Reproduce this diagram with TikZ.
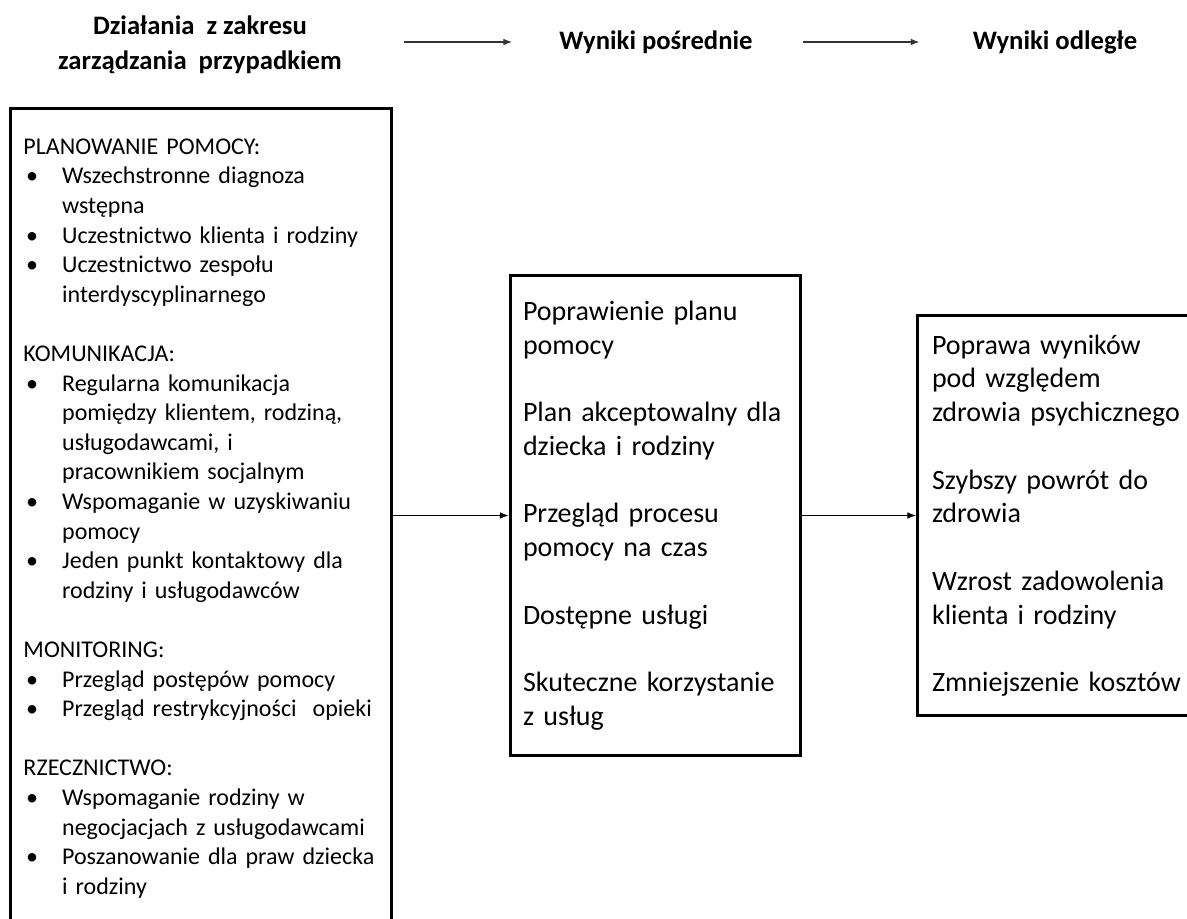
\documentclass[tikz,border=0pt]{standalone}
\usepackage{fontspec}
\setmainfont{Carlito}
\usetikzlibrary{arrows.meta}
\newlength{\px}\setlength{\px}{0.75pt}
\newcommand{\wiersz}[1]{\noindent\mbox{#1}\par}
\newcommand{\pkt}[1]{\noindent\makebox[29pt][l]{\hspace{2pt}\textbullet}\mbox{#1}\par}
\newcommand{\dalej}[1]{\noindent\hspace*{29pt}\mbox{#1}\par}
\newcommand{\odstep}{\vspace{\baselineskip}}
\tikzstyle{tytul}=[font=\fontsize{20pt}{26pt}\selectfont\bfseries, align=center]
\tikzstyle{ramka}=[draw, line width=2.25pt]
\tikzstyle{lewa}=[ramka, anchor=north west, text width=355\px, inner xsep=13\px, inner ysep=0pt, minimum height=820\px, font=\fontsize{18pt}{22.2pt}\selectfont]
\tikzstyle{wynik}=[ramka, inner xsep=13\px, font=\fontsize{21pt}{25.3pt}\selectfont]
\tikzstyle{strzalka}=[-{Latex[length=6.5pt,width=5pt]}, line width=0.75pt]

\begin{document}
\begin{tikzpicture}[x=0.75pt,y=-0.75pt]
            \useasboundingbox (0,0) rectangle (1187,919);
            \clip (0,0) rectangle (1187,919);
            % Nagłówki
            \node[tytul] (dzialaniatytul) at (200,44.5) {Działania\ \ z zakresu\\zarządzania\ \ przypadkiem};
            \node[tytul] (posrednietytul) at (656,42) {Wyniki pośrednie};
            \node[tytul] (odlegletytul) at (1055,42) {Wyniki odległe};
            % Ramki
            \node[lewa] (dzialania) at (9,107) {%
                \wiersz{PLANOWANIE POMOCY:}
                \pkt{Wszechstronne diagnoza}\dalej{wstępna}
                \pkt{Uczestnictwo klienta i rodziny}
                \pkt{Uczestnictwo zespołu}\dalej{interdyscyplinarnego}\odstep
                \wiersz{KOMUNIKACJA:}
                \pkt{Regularna komunikacja}\dalej{pomiędzy klientem, rodziną,}\dalej{usługodawcami, i}\dalej{pracownikiem socjalnym}
                \pkt{Wspomaganie w uzyskiwaniu}\dalej{pomocy}
                \pkt{Jeden punkt kontaktowy dla}\dalej{rodziny i usługodawców}\odstep
                \wiersz{MONITORING:}
                \pkt{Przegląd postępów pomocy}
                \pkt{Przegląd restrykcyjności\ \ opieki}\odstep
                \wiersz{RZECZNICTWO:}
                \pkt{Wspomaganie rodziny w}\dalej{negocjacjach z usługodawcami}
                \pkt{Poszanowanie dla praw dziecka}\dalej{i rodziny}};
            \node[wynik, text width=264\px, minimum height=479\px] (posrednie) at (655,515.5) {%
                \wiersz{Poprawienie planu}\wiersz{pomocy}\odstep
                \wiersz{Plan akceptowalny dla}\wiersz{dziecka i rodziny}\odstep
                \wiersz{Przegląd procesu}\wiersz{pomocy na czas}\odstep
                \wiersz{Dostępne usługi}\odstep
                \wiersz{Skuteczne korzystanie}\wiersz{z usług}};
            \node[wynik, anchor=west, inner xsep=14.5\px, text width=261\px, minimum height=399\px] (odlegle) at (916,515.5) {%
                \wiersz{Poprawa wyników}\wiersz{pod względem}\wiersz{zdrowia psychicznego}\odstep
                \wiersz{Szybszy powrót do}\wiersz{zdrowia}\odstep
                \wiersz{Wzrost zadowolenia}\wiersz{klienta i rodziny}\odstep
                \wiersz{Zmniejszenie kosztów}};
            % Strzałki
            \draw[strzalka, black!80, line width=1pt, shorten <=43pt, shorten >=32pt] (dzialaniatytul.east |- posrednietytul.west) -- (posrednietytul.west);
            \draw[strzalka, black!80, line width=1pt, shorten <=34pt, shorten >=36.5pt] (posrednietytul.east) -- (odlegletytul.west);
            \draw[strzalka] (posrednie.west -| dzialania.east) -- (posrednie.west);
            \draw[strzalka] (posrednie.east) -- (odlegle.west);
        \end{tikzpicture}
\end{document}
